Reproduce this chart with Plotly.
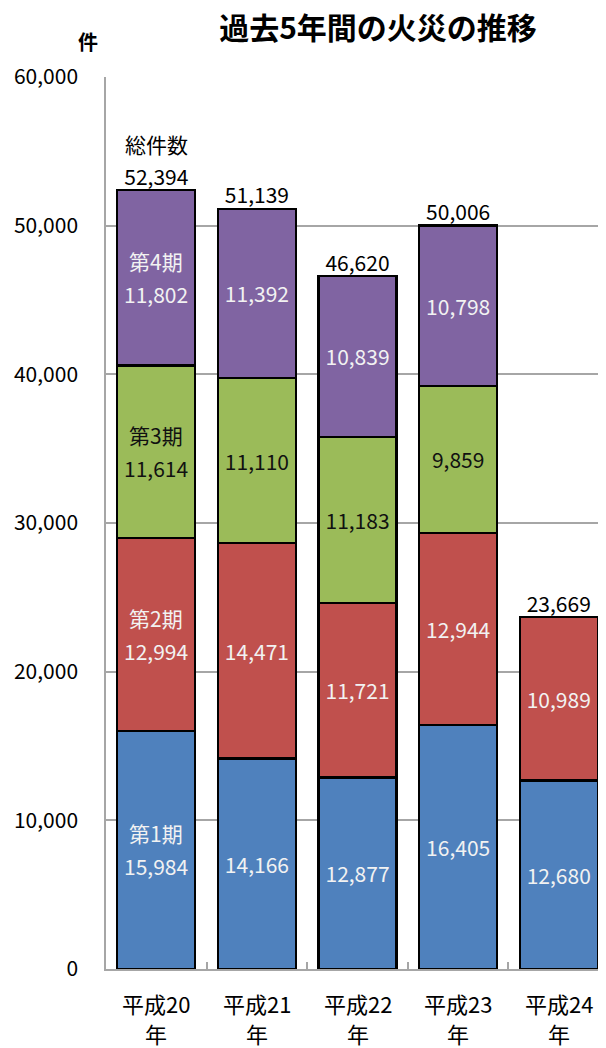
import plotly.graph_objects as go

# ---- data ----
years = ["平成20年", "平成21年", "平成22年", "平成23年", "平成24年"]
year_line1 = ["平成20", "平成21", "平成22", "平成23", "平成24"]
year_line2 = ["年", "年", "年", "年", "年"]
period_names = ["第1期", "第2期", "第3期", "第4期"]
q1 = [15984, 14166, 12877, 16405, 12680]
q2 = [12994, 14471, 11721, 12944, 10989]
q3 = [11614, 11110, 11183, 9859, None]
q4 = [11802, 11392, 10839, 10798, None]
totals = [52394, 51139, 46620, 50006, 23669]
y_ticks = [0, 10000, 20000, 30000, 40000, 50000, 60000]

colors = ["#4F81BD", "#C0504D", "#9BBB59", "#8064A2"]
text_colors = ["#F2F2F2", "#F2F2F2", "#111111", "#F2F2F2"]
FONT = "Noto Sans CJK JP"
LABEL_SIZE = 21

fig = go.Figure()
base = [0] * len(years)
for name, vals, col, tcol in zip(period_names, [q1, q2, q3, q4], colors, text_colors):
    texts = []
    for i, v in enumerate(vals):
        if v is None or i == 0:
            texts.append("")
        else:
            texts.append(f"{v:,}")
    fig.add_trace(go.Bar(
        x=years, y=vals, name=name, text=texts,
        textposition="inside", insidetextanchor="middle",
        textangle=0, constraintext="none",
        textfont=dict(family=FONT, size=LABEL_SIZE, color=tcol),
        marker=dict(color=col, line=dict(color="#000000", width=2.2)),
        width=0.775, hoverinfo="skip",
    ))
    # first bar: two-line label (period name + value), centred in segment
    v0 = vals[0]
    mid = base[0] + v0 / 2
    fig.add_annotation(x=years[0], y=mid, text=name, showarrow=False, yshift=17,
                       font=dict(family=FONT, size=LABEL_SIZE, color=tcol))
    fig.add_annotation(x=years[0], y=mid, text=f"{v0:,}", showarrow=False, yshift=-16,
                       font=dict(family=FONT, size=LABEL_SIZE, color=tcol))
    base = [b + (v or 0) for b, v in zip(base, vals)]

total_texts = [f"{t:,}" for t in totals]
fig.add_trace(go.Scatter(
    x=years, y=totals, mode="text", text=total_texts,
    textposition="top center",
    textfont=dict(family=FONT, size=21, color="#000000"),
    showlegend=False, hoverinfo="skip", cliponaxis=False,
))
fig.add_annotation(x=years[0], y=totals[0], text="総件数", showarrow=False,
                   yanchor="bottom", yshift=29,
                   font=dict(family=FONT, size=21, color="#000000"))

# category labels (two lines)
for cat, l1, l2 in zip(years, year_line1, year_line2):
    fig.add_annotation(x=cat, y=0, yref="paper", text=l1, showarrow=False,
                       yanchor="middle", yshift=-34,
                       font=dict(family=FONT, size=22, color="#000000"))
    fig.add_annotation(x=cat, y=0, yref="paper", text=l2, showarrow=False,
                       yanchor="middle", yshift=-64,
                       font=dict(family=FONT, size=22, color="#000000"))

fig.update_layout(
    barmode="stack",
    width=606, height=1048,
    margin=dict(l=106, r=8, t=77, b=79),
    paper_bgcolor="white", plot_bgcolor="white",
    showlegend=False,
    title=dict(text="<b>過去5年間の火災の推移</b>", xref="container", yref="container",
               x=378 / 606, y=1 - 28 / 1048, xanchor="center", yanchor="middle",
               font=dict(family=FONT, size=30, color="#000000")),
    font=dict(family=FONT, color="#000000"),
)
fig.update_xaxes(
    type="category", range=[-0.5, 4.39],
    showline=True, linecolor="#A6A6A6", linewidth=1.5,
    ticks="inside", tickson="boundaries", ticklen=7, tickcolor="#A6A6A6", tickwidth=1.5,
    showticklabels=False,
    showgrid=False,
)
fig.update_yaxes(
    range=[0, 60000], tickvals=y_ticks, ticktext=[f"{v:,}" for v in y_ticks],
    showline=True, linecolor="#A6A6A6", linewidth=1.5,
    showgrid=True, gridcolor="#A6A6A6", gridwidth=1.5,
    zeroline=False,
    tickfont=dict(family=FONT, size=21, color="#000000"),
    ticklabelstandoff=22,
)
fig.add_annotation(
    text="<b>件</b>", xref="paper", yref="paper",
    x=(88 - 106) / 492, y=(969 - 42) / 892, showarrow=False,
    xanchor="center", yanchor="middle",
    font=dict(family=FONT, size=20, color="#000000"),
)

fig.write_html("out.html")
